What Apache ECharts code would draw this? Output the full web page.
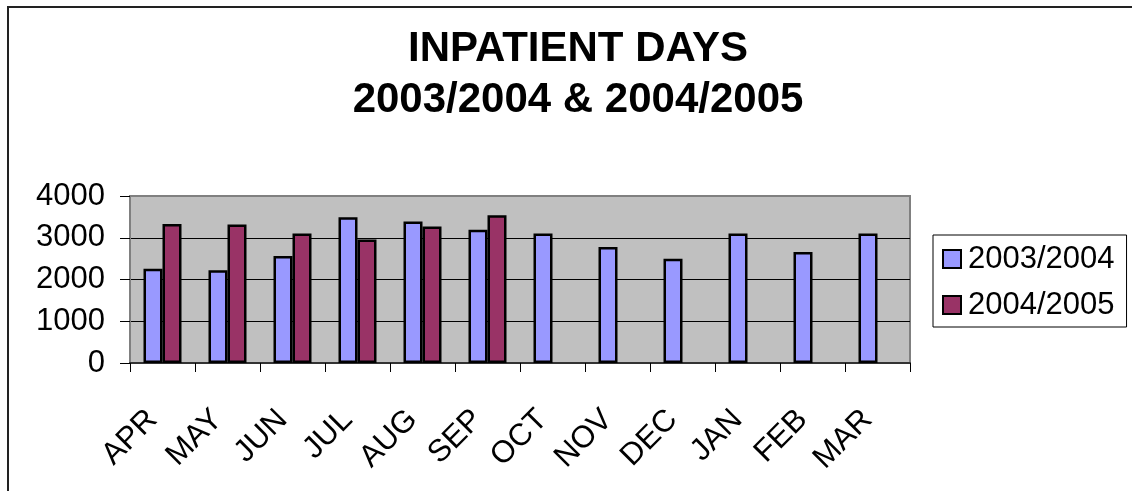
<!DOCTYPE html>
<html>
<head>
<meta charset="utf-8">
<script src="https://cdn.jsdelivr.net/npm/echarts@6/dist/echarts.min.js"></script>
<style>
html,body{margin:0;padding:0;background:#fff;overflow:hidden;}
#chart{position:absolute;left:0;top:0;width:1132px;height:491px;}
#frame{position:absolute;left:7px;top:6px;width:1200px;height:600px;border:2px solid #222;pointer-events:none;}
</style>
</head>
<body>
<div id="chart"></div>
<div id="frame"></div>
<script>
const titleLines = ['INPATIENT DAYS', '2003/2004 & 2004/2005'];
const months = ['APR','MAY','JUN','JUL','AUG','SEP','OCT','NOV','DEC','JAN','FEB','MAR'];
const seriesNames = ['2003/2004', '2004/2005'];
const days0304 = [2260, 2220, 2560, 3490, 3390, 3190, 3100, 2780, 2500, 3100, 2660, 3100];
const days0405 = [3330, 3320, 3100, 2960, 3270, 3540, null, null, null, null, null, null];
const yTicks = [0, 1000, 2000, 3000, 4000];

const font = '"Liberation Sans", Arial, sans-serif';
const chart = echarts.init(document.getElementById('chart'), null, {renderer: 'canvas'});
chart.setOption({
  animation: false,
  backgroundColor: 'transparent',
  title: {
    text: titleLines.join('\n'),
    left: 573,
    top: 19,
    textAlign: 'center',
    textStyle: {fontFamily: font, fontWeight: 'bold', fontSize: 42, lineHeight: 51, color: '#000'}
  },
  legend: {
    orient: 'vertical',
    left: 933,
    top: 235,
    padding: [8, 12, 6, 9],
    itemGap: 14,
    itemWidth: 18,
    itemHeight: 18,
    icon: 'rect',
    borderColor: '#000',
    borderWidth: 1,
    textStyle: {fontFamily: font, fontSize: 31, lineHeight: 32, color: '#000', padding: [0, 0, 0, 2]},
    data: seriesNames
  },
  grid: {
    left: 130, right: 222, top: 196, bottom: 128,
    show: true, backgroundColor: '#C0C0C0', borderColor: '#808080', borderWidth: 2
  },
  xAxis: {
    type: 'category',
    data: months,
    boundaryGap: true,
    axisLine: {lineStyle: {color: '#333', width: 2}},
    axisTick: {show: true, length: 9, lineStyle: {color: '#000', width: 1}},
    axisLabel: {rotate: 45, interval: 0, margin: 42, padding: [0, 14, 0, 0], fontFamily: font, fontSize: 31, color: '#000'}
  },
  yAxis: {
    type: 'value',
    min: yTicks[0],
    max: yTicks[yTicks.length - 1],
    interval: 1000,
    axisLine: {show: true, lineStyle: {color: '#808080', width: 2}},
    axisTick: {show: true, length: 10, lineStyle: {color: '#000', width: 1}},
    axisLabel: {margin: 25, fontFamily: font, fontSize: 31, color: '#000', formatter: v => String(v)},
    splitLine: {show: true, lineStyle: {color: ['#000', '#000', '#000', '#000', '#808080'], width: 1}}
  },
  series: [
    {
      name: seriesNames[0], type: 'bar', data: days0304,
      barWidth: 19, barGap: '0%',
      itemStyle: {color: '#9999FF', borderColor: '#000', borderWidth: 2.5}
    },
    {
      name: seriesNames[1], type: 'bar', data: days0405,
      barWidth: 19, barGap: '0%',
      itemStyle: {color: '#993366', borderColor: '#000', borderWidth: 2.5}
    }
  ]
});
</script>
</body>
</html>
